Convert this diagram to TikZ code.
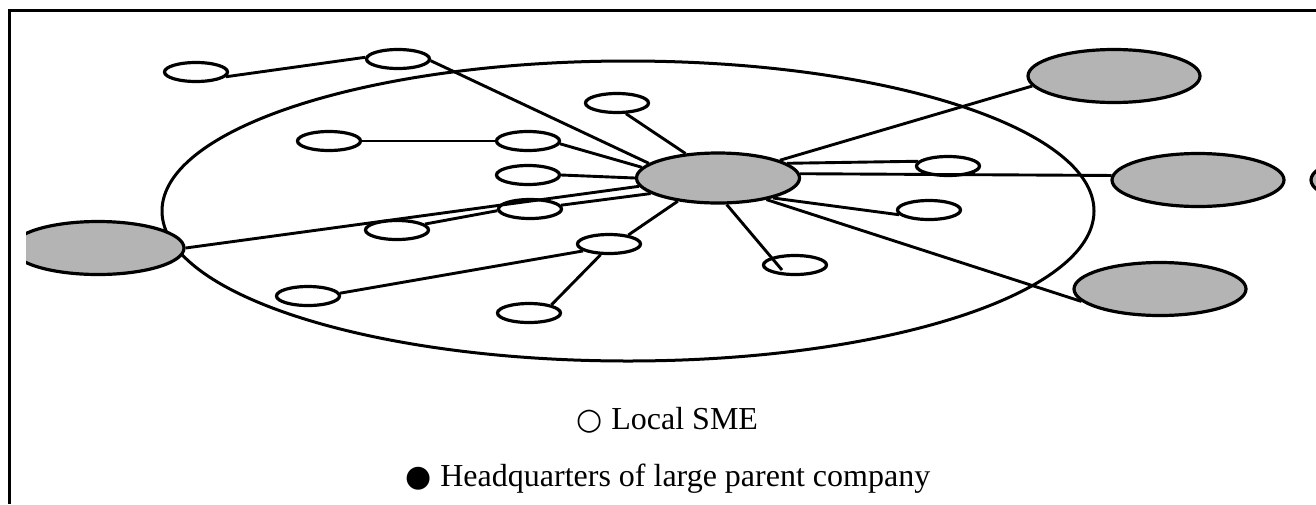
\documentclass[tikz,border=0pt]{standalone}
\usepackage{fontspec}
\setmainfont{Liberation Serif}
\newfontfamily\symfont{DejaVu Sans}
\usetikzlibrary{shapes.geometric,calc}
\definecolor{hqgray}{RGB}{180,180,180}
\tikzset{
  sme/.style={ellipse, draw, line width=3.2pt, minimum width=63pt, minimum height=19pt, inner sep=0pt},
  hq/.style={ellipse, draw, fill=hqgray, line width=3.2pt, minimum width=172pt, minimum height=53pt, inner sep=0pt},
  link/.style={line width=2.9pt},
  legend/.style={font=\fontsize{32}{38}\selectfont, inner sep=0pt, anchor=base west},
}
\begin{document}
\begin{tikzpicture}[x=1pt,y=-1pt]
\useasboundingbox (0,0) rectangle (1316,504);
% outer frame (top and left edges)
\draw[line width=3pt] (9.5,504) -- (9.5,10.5) -- (1316,10.5);
\begin{scope}
\clip (26,0) rectangle (1316,504);
% local region
\node[ellipse, draw, line width=3pt, minimum width=932pt, minimum height=300pt, inner sep=0pt] (region) at (628,211) {};
% headquarters
\node[hq, minimum width=163pt, minimum height=50pt] (C) at (718,178) {};
\node[hq] (L)  at (98,248) {};
\node[hq] (TR) at (1114,76) {};
\node[hq] (MR) at (1198,180) {};
\node[hq] (BR) at (1160,289) {};
\node[hq] (hqfar) at (1397,180) {};
% local SMEs
\node[sme] (n1)  at (196,72) {};
\node[sme] (n2)  at (398,59) {};
\node[sme] (n3)  at (617,103) {};
\node[sme] (n4)  at (329,141) {};
\node[sme] (n5)  at (528,141) {};
\node[sme] (n6)  at (528,175) {};
\node[sme] (n7)  at (530,209) {};
\node[sme] (n8)  at (397,230) {};
\node[sme] (n9)  at (609,244) {};
\node[sme] (n10) at (308,296) {};
\node[sme] (n11) at (529,313) {};
\node[sme] (n12) at (948,166) {};
\node[sme] (n13) at (929,210) {};
\node[sme] (n14) at (795,265) {};
% links
\draw[link] (n1.-9) -- (n2.177);
\draw[link] (n2.-3) -- (C.168);
\draw[link] (n3.-50) -- (C.143);
\draw[link] (n4.east) -- (n5.west);
\draw[link] (n5.-5) -- (C.172);
\draw[link] (n6.east) -- (C.west);
\draw[link] (L.east) -- (C.-174);
\draw[link] (n7.7) -- (C.-167);
\draw[link] (n8.12) -- (n7.183);
\draw[link] (n9.25) -- (C.-150);
\draw[link] (n10.5) -- (n9.195);
\draw[link] (n11.20) -- (n9.-128);
\draw[link] (C.-72) -- ($(n14.center)+(-13,5)$);
\draw[link] (C.12) -- (n12.171);
\draw[link] (C.16) -- (TR.-173);
\draw[link] (C.3) -- (MR.177);
\draw[link] (C.-20) -- (n13.189);
\draw[link] (C.-24) -- (BR.189);
\end{scope}
% legend
\node[legend] (key1) at (576,429) {{\symfont\fontsize{30}{36}\selectfont ○}\hspace{9pt}Local SME};
\node[legend] (key2) at (405,486) {{\symfont\fontsize{30}{36}\selectfont ●}\hspace{9pt}Headquarters of large parent company};
\end{tikzpicture}
\end{document}
